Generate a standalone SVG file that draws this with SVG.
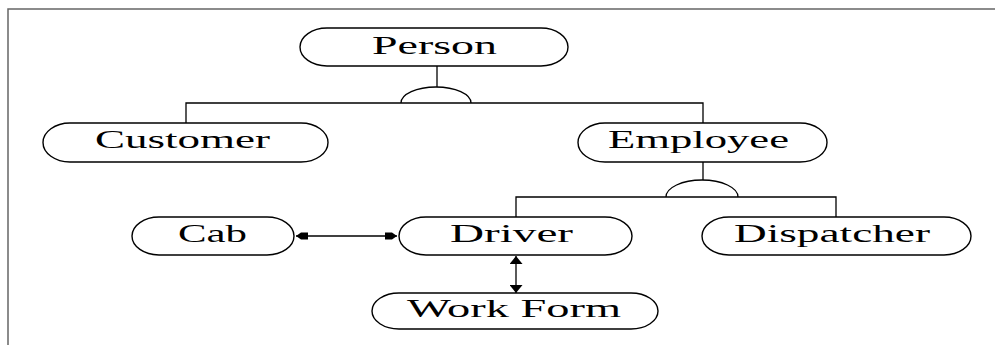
<svg xmlns="http://www.w3.org/2000/svg" width="995" height="345" viewBox="0 0 995 345">
  <style>
    .node { fill: #ffffff; stroke: #000000; stroke-width: 1.4; }
    .label { font-family: "Liberation Serif", "Times New Roman", serif; font-size: 26px; fill: #000000; }
    .wire { fill: none; stroke: #000000; stroke-width: 1.3; }
    .frame { fill: none; stroke: #666666; stroke-width: 1.5; }
  </style>
  <defs>
    <marker id="head" viewBox="0 0 12 10" refX="12" refY="5" markerWidth="12" markerHeight="10" markerUnits="userSpaceOnUse" orient="auto-start-reverse">
      <path d="M0,1.5 L7,1.5 L12,5 L7,8.5 L0,8.5 Z" fill="#000000"/>
    </marker>
    <marker id="tri" viewBox="0 0 8 13" refX="8" refY="6.5" markerWidth="8" markerHeight="13" markerUnits="userSpaceOnUse" orient="auto-start-reverse">
      <path d="M0,0 L8,6.5 L0,13 Z" fill="#000000"/>
    </marker>
  </defs>

  <!-- page border -->
  <path class="frame" d="M8,345 L8,9 L995,9"/>

  <!-- connectors -->
  <g id="connectors">
    <!-- Person specialisation -->
    <path class="wire" d="M437,66 L437,87"/>
    <path class="wire" d="M401,103 A35,16 0 0 1 471,103"/>
    <path class="wire" d="M186,123 L186,103 L703,103 L703,123"/>
    <!-- Employee specialisation -->
    <path class="wire" d="M703,162 L703,180"/>
    <path class="wire" d="M666,197 A36,17 0 0 1 738,197"/>
    <path class="wire" d="M516,217 L516,197 L836,197 L836,217"/>
    <!-- Cab - Driver -->
    <path class="wire" d="M296,236 L397,236" marker-start="url(#head)" marker-end="url(#head)"/>
    <!-- Driver - Work Form -->
    <path class="wire" d="M516,256 L516,293" marker-start="url(#tri)" marker-end="url(#tri)"/>
  </g>

  <g id="person">
    <rect class="node" x="300" y="28" width="268" height="38" rx="27" ry="19"/>
    <text class="label" x="372" y="54" textLength="125" lengthAdjust="spacingAndGlyphs">Person</text>
  </g>
  <g id="customer">
    <rect class="node" x="43" y="123" width="285" height="39" rx="27" ry="19.5"/>
    <text class="label" x="95" y="148" textLength="175" lengthAdjust="spacingAndGlyphs">Customer</text>
  </g>
  <g id="employee">
    <rect class="node" x="578" y="123" width="249" height="39" rx="27" ry="19.5"/>
    <text class="label" x="608" y="148" textLength="181" lengthAdjust="spacingAndGlyphs">Employee</text>
  </g>
  <g id="cab">
    <rect class="node" x="132" y="217" width="162" height="38" rx="27" ry="19"/>
    <text class="label" x="178" y="242" textLength="69" lengthAdjust="spacingAndGlyphs">Cab</text>
  </g>
  <g id="driver">
    <rect class="node" x="399" y="217" width="233" height="38" rx="27" ry="19"/>
    <text class="label" x="450" y="242" textLength="123" lengthAdjust="spacingAndGlyphs">Driver</text>
  </g>
  <g id="dispatcher">
    <rect class="node" x="702" y="217" width="269" height="38" rx="27" ry="19"/>
    <text class="label" x="734" y="242" textLength="196" lengthAdjust="spacingAndGlyphs">Dispatcher</text>
  </g>
  <g id="work-form">
    <rect class="node" x="372" y="293" width="286" height="36" rx="27" ry="18"/>
    <text class="label" x="407" y="317" textLength="214" lengthAdjust="spacingAndGlyphs">Work Form</text>
  </g>
</svg>
